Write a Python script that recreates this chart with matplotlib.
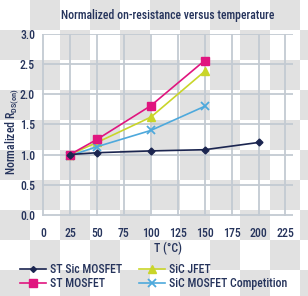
import numpy as np
import matplotlib
matplotlib.use("Agg")
import matplotlib.pyplot as plt
from matplotlib import font_manager

names = {f.name for f in font_manager.fontManager.ttflist}
fam = "DejaVu Sans"
for cand in ["Roboto Condensed", "Archivo Narrow", "PT Sans Narrow", "Liberation Sans Narrow",
             "Barlow Semi Condensed", "Roboto"]:
    if cand in names:
        fam = cand
        break
plt.rcParams['font.family'] = [fam, 'DejaVu Sans']
plt.rcParams['font.weight'] = 'medium'

temps_st_sic = [25, 50, 100, 150, 200]
st_sic_mosfet = [1.0, 1.03, 1.06, 1.08, 1.20]
temps = [25, 50, 100, 150]
st_mosfet = [1.0, 1.25, 1.81, 2.56]
sic_jfet = [1.0, 1.20, 1.62, 2.38]
sic_comp = [0.98, 1.13, 1.40, 1.80]
series_names = ["ST Sic MOSFET", "ST MOSFET", "SiC JFET", "SiC MOSFET Competition"]
xticks = [0, 25, 50, 75, 100, 125, 150, 175, 200, 225]
yticks = [0.0, 0.5, 1.0, 1.5, 2.0, 2.5, 3.0]

W, H = 308, 296
fig = plt.figure(figsize=(W / 100, H / 100), dpi=100)
fig.patch.set_facecolor('white')
# transparency checkerboard backdrop
yy, xx = np.mgrid[0:H, 0:W]
chk = ((xx // 30 + yy // 30) % 2)
img = np.ones((H, W, 3))
img[chk == 1] = np.array([225, 225, 225]) / 255
fig.figimage(img, 0, 0, origin='upper', zorder=-10)

ax = fig.add_axes([42 / W, 1 - 216 / H, (293 - 42) / W, (216 - 34) / H])
ax.set_zorder(1)
ax.patch.set_alpha(0)
ax.set_xlim(-1, 232)
ax.set_ylim(-0.02, 3.0)

navy = '#1b2550'
mag = '#e0157f'
yel = '#c9d52a'
blu = '#4ea9dc'
txt = '#26345c'
gridc = '#c3cad2'

ax.plot(temps_st_sic, st_sic_mosfet, color=navy, lw=1.2, marker='D', ms=3.5, label=series_names[0], zorder=5)
ax.plot(temps, st_mosfet, color=mag, lw=1.2, marker='s', ms=6, label=series_names[1], zorder=4)
ax.plot(temps, sic_jfet, color=yel, lw=1.2, marker='^', ms=6, label=series_names[2], zorder=3)
ax.plot(temps, sic_comp, color=blu, lw=1.2, marker='x', ms=6, mew=1.3, label=series_names[3], zorder=3)

ax.set_xticks(xticks)
ax.set_yticks(yticks)
ax.set_yticklabels([f"{v:.1f}" for v in yticks])
ax.grid(True, color=gridc, lw=1.3, zorder=0)
ax.set_axisbelow(True)
for s in ax.spines.values():
    s.set_visible(False)
ax.tick_params(axis='both', colors=txt, labelsize=8.5, length=0)
ax.tick_params(axis='y', pad=5)
ax.tick_params(axis='x', pad=8)

fig.text(168 / W, 1 - 15 / H, "Normalized on-resistance versus temperature",
         ha='center', va='center', color=txt, fontsize=8.5)
fig.text(12 / W, 1 - 132 / H, r"Normalized R$_{\mathregular{DS(on)}}$", rotation=90,
         ha='center', va='center', color=txt, fontsize=8.5)
fig.text(168 / W, 1 - 248 / H, "T (°C)", ha='center', va='center', color=txt, fontsize=8.5)

leg = fig.legend(loc='upper left', bbox_to_anchor=(20 / W, 1 - 263 / H), ncol=2,
                 frameon=False, fontsize=8.5, handlelength=2.2, handletextpad=0.3,
                 columnspacing=1.5, labelspacing=0.1, borderaxespad=0, borderpad=0,
                 markerscale=0.85)
for t in leg.get_texts():
    t.set_color(txt)

fig.savefig("out.png", dpi=100)
